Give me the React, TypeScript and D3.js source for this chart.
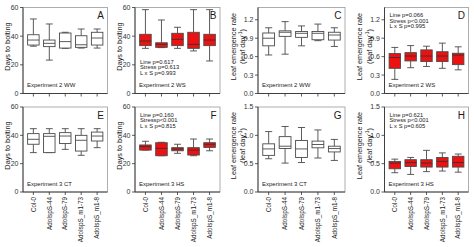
import React from "react";
import * as d3 from "d3";

// ---------- data ----------
const categories = ["Col-0", "AdoIspS-44", "AdoIspS-79", "AdoIspS_m1-73", "AdoIspS_m1-8"];

// each entry: [whiskerLow, q1, median, q3, whiskerHigh]
const boltingExp2WW = [
  [33, 33.8, 37.3, 41, 52],
  [23.3, 32.7, 35, 37.3, 48.5],
  [31.5, 31.7, 36.2, 42.2, 42.7],
  [31.7, 32.2, 34, 40.3, 45],
  [31.7, 33.8, 38.7, 42.7, 45],
];
const boltingExp2WS = [
  [31.5, 33.4, 36.6, 41.3, 58.5],
  [32, 32.2, 34.3, 35.4, 51.3],
  [31.5, 33.4, 37.8, 42, 46.2],
  [29.7, 31.5, 34.3, 42.7, 58.5],
  [22.7, 33.4, 37.3, 41.3, 58.5],
];
const lerExp2WW = [
  [0.627, 0.776, 0.9, 0.985, 1.07],
  [0.64, 0.93, 0.997, 1.02, 1.17],
  [0.776, 0.914, 0.98, 1.01, 1.1],
  [0.86, 0.875, 0.98, 1.01, 1.13],
  [0.766, 0.87, 0.952, 0.997, 1.07],
];
const lerExp2WS = [
  [0.23, 0.41, 0.585, 0.65, 0.75],
  [0.42, 0.53, 0.61, 0.665, 0.78],
  [0.44, 0.52, 0.61, 0.71, 0.77],
  [0.41, 0.52, 0.61, 0.68, 0.82],
  [0.385, 0.47, 0.625, 0.655, 0.76],
];
const boltingExp3CT = [
  [27.8, 33.7, 37.2, 41.2, 44.7],
  [27.8, 27.8, 39.3, 41.2, 44.7],
  [30.1, 34.2, 39.5, 41.9, 44.7],
  [25.9, 28.9, 36.5, 40, 44.7],
  [31.3, 36, 39.5, 42.3, 44.7],
];
const boltingExp3HS = [
  [29.6, 29.6, 32, 33.2, 35.8],
  [25.6, 25.6, 30.8, 34.8, 35.1],
  [27.3, 29.1, 30.3, 31.3, 33.7],
  [25.6, 26.1, 29.6, 31.3, 37.4],
  [29.1, 31.5, 33.7, 34.8, 37.4],
];
const lerExp3CT = [
  [0.587, 0.646, 0.76, 0.85, 1.066],
  [0.51, 0.767, 0.808, 0.977, 1.156],
  [0.52, 0.61, 0.76, 0.91, 1.138],
  [0.6, 0.78, 0.838, 0.898, 1.095],
  [0.557, 0.707, 0.767, 0.808, 0.928],
];
const lerExp3HS = [
  [0.34, 0.41, 0.51, 0.54, 0.58],
  [0.31, 0.45, 0.52, 0.57, 0.61],
  [0.36, 0.44, 0.51, 0.57, 0.735],
  [0.37, 0.44, 0.54, 0.61, 0.69],
  [0.35, 0.44, 0.52, 0.63, 0.67],
];

const boltingTicks = [0, 20, 40, 60];
const lerTicksExp2 = [0, 0.3, 0.6, 0.9, 1.2];
const lerTicksExp3 = [0, 0.5, 1.0, 1.5];

const statsB = ["Line p=0.617", "Stress p=0.613", "L x S p=0.993"];
const statsD = ["Line p=0.066", "Stress p<0.001", "L x S p=0.995"];
const statsF = ["Line p=0.160", "Stressp<0.001", "L x S p=0.815"];
const statsH = ["Line p=0.621", "Stress p<0.001", "L x S p=0.605"];

// ---------- layout ----------
const ROWS = [
  { top: 7.5, bottom: 93.5 },
  { top: 107, bottom: 192 },
];
const COLS = [
  { l: 23, r: 107.5 },
  { l: 135, r: 220 },
  { l: 258, r: 345 },
  { l: 384.5, r: 468.5 },
];
const FONT = "'Liberation Sans', Arial, Helvetica, sans-serif";
const RED = "#ee1111";
const TXT = "#1a1a1a";

type PanelDef = {
  row: number;
  col: number;
  data: number[][];
  domain: [number, number];
  ticks: number[];
  fmt: (v: number) => string;
  ylab: "bolt" | "ler";
  letter: string;
  exp: string;
  stats?: string[];
  statsPos?: "top" | "mid";
  red: boolean;
};

const fmtInt = (v: number) => String(v);
const fmt1 = d3.format(".1f");

const panels: PanelDef[] = [
  { row: 0, col: 0, data: boltingExp2WW, domain: [0, 60], ticks: boltingTicks, fmt: fmtInt, ylab: "bolt", letter: "A", exp: "Experiment 2 WW", red: false },
  { row: 0, col: 1, data: boltingExp2WS, domain: [0, 60], ticks: boltingTicks, fmt: fmtInt, ylab: "bolt", letter: "B", exp: "Experiment 2 WS", stats: statsB, statsPos: "mid", red: true },
  { row: 0, col: 2, data: lerExp2WW, domain: [0, 1.4], ticks: lerTicksExp2, fmt: fmt1, ylab: "ler", letter: "C", exp: "Experiment 2 WW", red: false },
  { row: 0, col: 3, data: lerExp2WS, domain: [0, 1.4], ticks: lerTicksExp2, fmt: fmt1, ylab: "ler", letter: "D", exp: "Experiment 2 WS", stats: statsD, statsPos: "top", red: true },
  { row: 1, col: 0, data: boltingExp3CT, domain: [0, 60], ticks: boltingTicks, fmt: fmtInt, ylab: "bolt", letter: "E", exp: "Experiment 3 CT", red: false },
  { row: 1, col: 1, data: boltingExp3HS, domain: [0, 60], ticks: boltingTicks, fmt: fmtInt, ylab: "bolt", letter: "F", exp: "Experiment 3 HS", stats: statsF, statsPos: "top", red: true },
  { row: 1, col: 2, data: lerExp3CT, domain: [0, 1.5], ticks: lerTicksExp3, fmt: fmt1, ylab: "ler", letter: "G", exp: "Experiment 3 CT", red: false },
  { row: 1, col: 3, data: lerExp3HS, domain: [0, 1.5], ticks: lerTicksExp3, fmt: fmt1, ylab: "ler", letter: "H", exp: "Experiment 3 HS", stats: statsH, statsPos: "top", red: true },
];

function Panel({ p }: { p: PanelDef }) {
  const { top, bottom } = ROWS[p.row];
  const { l, r } = COLS[p.col];
  const x = d3.scalePoint<string>().domain(categories).range([l, r]).padding(0.65);
  const y = d3.scaleLinear().domain(p.domain).range([bottom, top]);
  const step = x.step();
  const bw = step * 0.72;
  const cw = bw * 0.6;
  const midY = (top + bottom) / 2 - 4;
  const boxStroke = "#4a4a4a";
  const sw = 0.9;

  let statsY0 = 0;
  if (p.stats) {
    statsY0 = p.statsPos === "top" ? top + 9.5 : top + 56;
  }

  return (
    <g>
      <rect x={l} y={top} width={r - l} height={bottom - top} fill="white" stroke="#9a9a9a" strokeWidth={0.8} />
      <line x1={l} x2={l} y1={top} y2={bottom} stroke="#333" strokeWidth={0.9} />
      <line x1={l} x2={r} y1={bottom} y2={bottom} stroke="#333" strokeWidth={0.9} />
      {p.ticks.map((t) => (
        <g key={t}>
          <line x1={l - 3} x2={l} y1={y(t)} y2={y(t)} stroke="#333" strokeWidth={0.8} />
          <text x={l - 4.5} y={y(t)} dy="0.35em" textAnchor="end" fontSize={7} fill="#333" fontFamily={FONT}>
            {p.fmt(t)}
          </text>
        </g>
      ))}
      {categories.map((c) => (
        <line key={c} x1={x(c)} x2={x(c)} y1={bottom} y2={bottom + 3} stroke="#333" strokeWidth={0.8} />
      ))}
      {p.row === 1 &&
        categories.map((c) => (
          <text
            key={c}
            transform={`translate(${x(c)},${bottom + 5}) rotate(-90)`}
            dy="0.35em"
            textAnchor="end"
            fontSize={6.3}
            fill={TXT}
            fontFamily={FONT}
          >
            {c}
          </text>
        ))}
      {p.data.map((d, i) => {
        const cx = x(categories[i]) as number;
        const [lo, q1, med, q3, hi] = d;
        return (
          <g key={i}>
            <line x1={cx} x2={cx} y1={y(hi)} y2={y(q3)} stroke={boxStroke} strokeWidth={sw} />
            <line x1={cx} x2={cx} y1={y(q1)} y2={y(lo)} stroke={boxStroke} strokeWidth={sw} />
            <line x1={cx - cw / 2} x2={cx + cw / 2} y1={y(hi)} y2={y(hi)} stroke={boxStroke} strokeWidth={sw} />
            <line x1={cx - cw / 2} x2={cx + cw / 2} y1={y(lo)} y2={y(lo)} stroke={boxStroke} strokeWidth={sw} />
            <rect
              x={cx - bw / 2}
              y={y(q3)}
              width={bw}
              height={Math.max(0.5, y(q1) - y(q3))}
              fill={p.red ? RED : "white"}
              stroke={boxStroke}
              strokeWidth={sw}
            />
            <line x1={cx - bw / 2} x2={cx + bw / 2} y1={y(med)} y2={y(med)} stroke={p.red ? "#333" : boxStroke} strokeWidth={sw} />
          </g>
        );
      })}
      <text x={r - 3.5} y={top + 11.5} textAnchor="end" fontSize={10} fill={TXT} fontFamily={FONT}>
        {p.letter}
      </text>
      <text x={l + 4} y={bottom - 6.5} fontSize={6} fill={TXT} fontFamily={FONT}>
        {p.exp}
      </text>
      {p.stats &&
        p.stats.map((s, i) => (
          <text key={s} x={l + 5} y={statsY0 + i * 5.6} fontSize={5.8} fill={TXT} fontFamily={FONT}>
            {s}
          </text>
        ))}
      {p.ylab === "bolt" ? (
        <text transform={`translate(${l - 16},${midY}) rotate(-90)`} dy="0.35em" textAnchor="middle" fontSize={7.3} fill={TXT} fontFamily={FONT}>
          Days to bolting
        </text>
      ) : (
        <g>
          <text transform={`translate(${l - 25},${midY}) rotate(-90)`} dy="0.35em" textAnchor="middle" fontSize={7.3} fill={TXT} fontFamily={FONT}>
            Leaf emergence rate
          </text>
          <text transform={`translate(${l - 15.5},${midY}) rotate(-90)`} dy="0.35em" textAnchor="middle" fontSize={7.3} fill={TXT} fontFamily={FONT}>
            (leaf day
            <tspan fontSize={5} baselineShift="super">-1</tspan>)
          </text>
        </g>
      )}
    </g>
  );
}

export default function App() {
  return (
    <svg
      width={474}
      height={247}
      viewBox="0 0 474 247"
      style={{ position: "absolute", left: 0, top: 0, display: "block", background: "white" }}
    >
      <rect x={0} y={0} width={474} height={247} fill="white" />
      {panels.map((p) => (
        <Panel key={p.letter} p={p} />
      ))}
    </svg>
  );
}
